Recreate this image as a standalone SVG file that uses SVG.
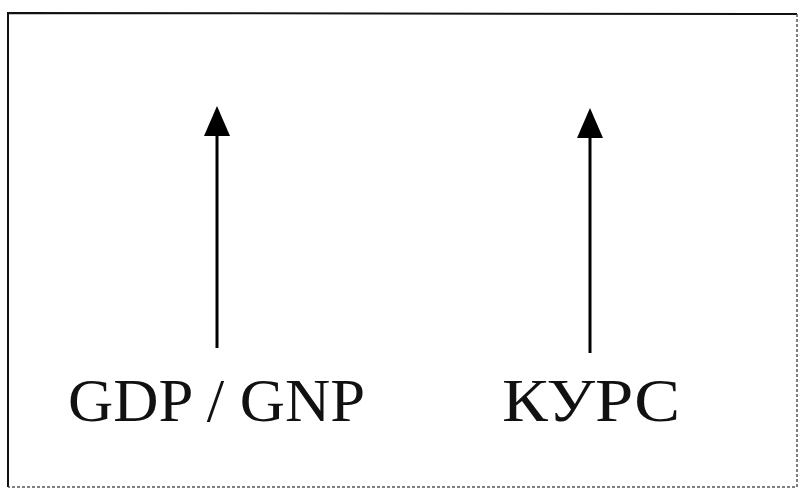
<svg xmlns="http://www.w3.org/2000/svg" width="802" height="490" viewBox="0 0 802 490">
<style>
.frame{stroke:#111;fill:none;stroke-width:2}
.frame-light{stroke:#555;fill:none;stroke-width:1.5;stroke-dasharray:3 2}
.conn{stroke:#000;stroke-width:3;fill:none}
.label{font-family:"Liberation Serif","Times New Roman",serif;font-size:62px;fill:#111}
</style>
<defs>
<marker id="ah" viewBox="0 0 30 26" refX="1" refY="13" markerWidth="30" markerHeight="26" markerUnits="userSpaceOnUse" orient="auto">
<path d="M0 0 L30 13 L0 26 Z" fill="#000"/>
</marker>
</defs>
<rect width="802" height="490" fill="#fff"/>
<g id="frame">
<path class="frame" d="M797 14 L8 13 L8 487"/>
<path class="frame-light" d="M797 14 L797 487 L8 487"/>
</g>
<g id="connectors">
<line class="conn" x1="217" y1="348" x2="217" y2="135" marker-end="url(#ah)"/>
<line class="conn" x1="590" y1="353" x2="590" y2="137" marker-end="url(#ah)"/>
</g>
<g id="node-gdp">
<text class="label" x="68" y="421" textLength="297" lengthAdjust="spacingAndGlyphs">GDP / GNP</text>
</g>
<g id="node-kurs">
<text class="label" x="502" y="421" textLength="178" lengthAdjust="spacingAndGlyphs">КУРС</text>
</g>
</svg>
